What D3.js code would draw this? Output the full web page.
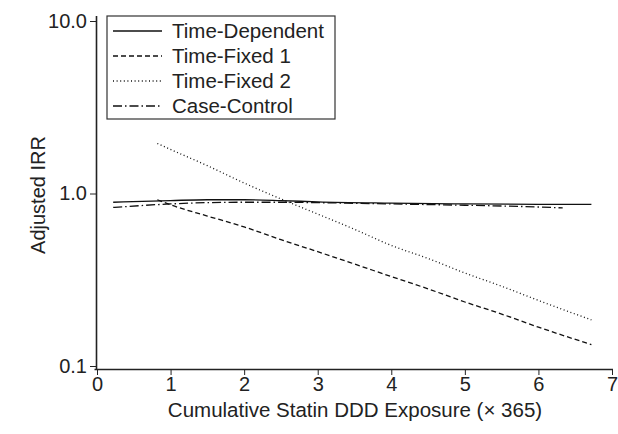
<!DOCTYPE html>
<html>
<head>
    <title>Adjusted IRR</title>
    <script src="https://d3js.org/d3.v7.min.js"></script>
    <style>
        body { margin: 0; background: #fff; }
        text { font-family: "Liberation Sans", Arial, sans-serif; fill: #222; }
    </style>
</head>
<body>
    <div id="vis"></div>
    <script>
        // data
        var seriesNames = ["Time-Dependent", "Time-Fixed 1", "Time-Fixed 2", "Case-Control"];
        var tdX = [0.22, 1, 1.5, 2, 2.5, 3, 4, 5, 6, 6.72];
        var tdY = [0.89, 0.91, 0.92, 0.92, 0.91, 0.895, 0.88, 0.87, 0.865, 0.865];
        var tf1X = [0.82, 1, 1.5, 2, 2.5, 3, 3.5, 4, 4.5, 5, 5.5, 6, 6.72];
        var tf1Y = [0.92, 0.86, 0.74, 0.64, 0.54, 0.46, 0.39, 0.33, 0.28, 0.235, 0.2, 0.168, 0.133];
        var tf2X = [0.82, 1, 1.5, 2, 2.5, 3, 3.5, 4, 4.5, 5, 5.5, 6, 6.72];
        var tf2Y = [1.95, 1.8, 1.45, 1.15, 0.93, 0.76, 0.62, 0.5, 0.42, 0.346, 0.29, 0.24, 0.185];
        var ccX = [0.22, 1, 1.5, 2, 2.5, 3, 4, 5, 6, 6.33];
        var ccY = [0.83, 0.87, 0.885, 0.89, 0.89, 0.885, 0.87, 0.855, 0.835, 0.825];
        var xTicks = [0, 1, 2, 3, 4, 5, 6, 7];
        var yTicks = [0.1, 1, 10];
        var yTickLabels = ["0.1", "1.0", "10.0"];

        var dashes = ["none", "5,3", "1,2.6", "9,3,1.5,3"];
        var series = [
            {name: seriesNames[0], xs: tdX, ys: tdY, dash: dashes[0]},
            {name: seriesNames[1], xs: tf1X, ys: tf1Y, dash: dashes[1]},
            {name: seriesNames[2], xs: tf2X, ys: tf2Y, dash: dashes[2]},
            {name: seriesNames[3], xs: ccX, ys: ccY, dash: dashes[3]}
        ];

        var width = 618, height = 434;
        var svg = d3.select("#vis").append("svg")
            .attr("width", width)
            .attr("height", height);

        var xScale = d3.scaleLinear().domain([0, 7]).range([97, 612]);
        var yScale = d3.scaleLog().domain([0.1, 10]).range([366, 21]);

        // x axis
        var xAxis = svg.append("g")
            .attr("transform", "translate(0,369)")
            .call(d3.axisBottom(xScale).tickValues(xTicks).tickFormat(d3.format("d")).tickSize(6).tickPadding(2).tickSizeOuter(0));
        xAxis.select(".domain").attr("d", "M94.5,0.5H613").attr("stroke", "#222").attr("stroke-width", 1.6);
        xAxis.selectAll(".tick line").attr("stroke", "#222");
        xAxis.selectAll("text").style("font-size", "20px").attr("fill", "#222");

        // y axis
        var yAxis = svg.append("g")
            .attr("transform", "translate(96,0)")
            .call(d3.axisLeft(yScale).tickValues(yTicks).tickFormat(function(d, i) { return yTickLabels[i]; }).tickSize(6).tickPadding(3).tickSizeOuter(0));
        yAxis.select(".domain").attr("d", "M0.5,16V370").attr("stroke", "#222").attr("stroke-width", 1.6);
        yAxis.selectAll(".tick line").attr("stroke", "#222");
        yAxis.selectAll("text").style("font-size", "20px").attr("fill", "#222");

        // axis titles
        svg.append("text")
            .attr("x", 355)
            .attr("y", 417)
            .attr("text-anchor", "middle")
            .style("font-size", "20.5px")
            .text("Cumulative Statin DDD Exposure (\u00d7 365)");
        svg.append("text")
            .attr("transform", "translate(45,195) rotate(-90)")
            .attr("text-anchor", "middle")
            .style("font-size", "20px")
            .text("Adjusted IRR");

        // lines
        var line = d3.line()
            .x(function(d) { return xScale(d[0]); })
            .y(function(d) { return yScale(d[1]); })
            .curve(d3.curveMonotoneX);

        svg.selectAll("path.series")
            .data(series)
            .enter()
            .append("path")
            .attr("class", "series")
            .attr("d", function(s) { return line(s.xs.map(function(x, i) { return [x, s.ys[i]]; })); })
            .attr("fill", "none")
            .attr("stroke", "#111")
            .attr("stroke-width", 1.3)
            .attr("stroke-dasharray", function(s) { return s.dash; });

        // legend
        var legend = svg.append("g").attr("transform", "translate(107,16)");
        legend.append("rect")
            .attr("x", 0).attr("y", 0)
            .attr("width", 228).attr("height", 103)
            .attr("fill", "#fff")
            .attr("stroke", "#333")
            .attr("stroke-width", 1.2);
        var items = legend.selectAll("g.item")
            .data(series)
            .enter()
            .append("g")
            .attr("class", "item")
            .attr("transform", function(d, i) { return "translate(0," + (15 + i * 25) + ")"; });
        items.append("line")
            .attr("x1", 6).attr("x2", 55)
            .attr("y1", 0).attr("y2", 0)
            .attr("stroke", "#111")
            .attr("stroke-width", 1.3)
            .attr("stroke-dasharray", function(d) { return d.dash; });
        items.append("text")
            .attr("x", 65)
            .attr("y", 7)
            .style("font-size", "20.5px")
            .text(function(d) { return d.name; });
    </script>
</body>
</html>
